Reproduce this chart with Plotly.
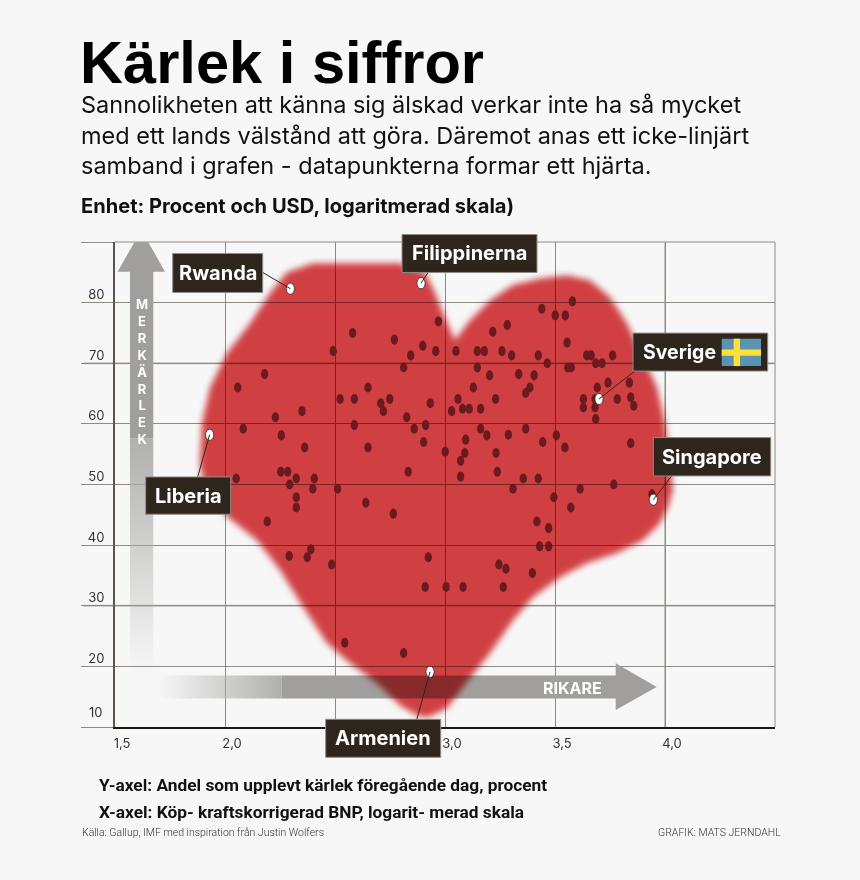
import plotly.graph_objects as go

# ---------- data ----------
dot_x = [2.970,2.580,2.770,2.899,2.958,2.844,2.492,2.812,2.180,2.058,2.650,2.523,2.588,2.749,2.708,2.720,2.933,2.350,2.229,2.826,2.083,2.588,2.860,2.912,2.256,2.903,2.362,2.650,3.001,2.833,2.253,2.285,2.324,2.406,2.051,2.294,2.399,2.512,2.324,2.324,2.192,2.640,2.765,2.292,2.390,2.374,2.485,2.924,2.910,3.005,2.544,2.812,
         3.579,3.440,3.501,3.547,3.283,3.217,3.555,3.050,3.147,3.179,3.259,3.303,3.424,3.644,3.664,3.762,3.465,3.685,3.714,3.558,3.574,3.147,3.203,3.335,3.405,3.129,3.386,3.367,3.741,3.838,3.692,3.059,3.230,3.629,3.682,3.783,3.844,3.858,3.030,3.080,3.110,3.162,3.629,3.682,3.685,3.162,3.190,3.288,3.367,3.506,3.094,3.444,3.545,3.844,3.090,3.232,3.071,3.238,3.071,3.356,3.424,3.767,3.614,3.309,3.495,3.572,3.418,3.471,3.430,3.471,3.245,3.277,3.397,3.265,3.082,3.941]
dot_y = [76.9,75.0,73.9,72.9,72.0,71.3,72.0,69.3,68.2,66.0,66.0,64.1,64.1,64.1,63.4,62.1,63.4,62.1,61.1,61.1,59.2,59.8,59.2,59.8,58.1,57.0,56.1,56.1,55.4,52.1,52.1,52.1,51.0,51.0,51.0,50.0,49.3,49.3,47.9,46.2,43.9,47.0,45.2,38.2,39.3,38.0,36.8,38.0,33.1,33.1,23.9,22.2,
         80.2,79.0,77.9,77.9,76.3,75.2,73.4,72.0,72.0,72.0,72.0,71.3,71.3,71.3,71.3,71.3,70.0,70.0,70.0,69.3,69.3,69.3,68.0,68.2,68.0,66.0,66.0,65.1,66.8,66.8,66.0,64.1,64.1,64.1,64.1,64.1,64.4,63.0,62.1,62.5,62.5,62.5,62.7,62.7,60.8,59.2,58.1,58.2,59.2,58.1,57.4,57.0,56.1,56.8,55.2,55.2,53.9,52.1,51.3,51.0,51.0,50.0,49.3,49.3,47.9,46.2,43.9,42.8,39.8,39.8,36.8,36.1,35.4,33.1,33.1,48.4]

country = ["Rwanda", "Filippinerna", "Liberia", "Sverige", "Singapore", "Armenien"]
country_x = [2.297, 2.891, 1.930, 3.700, 3.947, 2.932]
country_y = [82.3, 83.2, 58.2, 64.1, 47.5, 19.1]

heart_x = [2.400,2.282,2.205,2.114,2.009,1.932,1.895,1.886,1.909,2.014,2.145,2.250,2.355,2.464,2.568,2.691,2.795,2.873,2.923,3.009,3.082,3.205,3.309,3.400,3.523,3.645,3.782,3.900,3.977,4.014,4.036,4.023,4.000,3.964,3.900,3.827,3.750,3.659,3.555,3.432,3.309,3.205,3.114,3.045,2.991,2.955,2.909,2.795,2.400]
heart_y = [86.5,85.0,81.6,76.6,71.7,66.0,60.1,53.5,49.1,44.6,40.8,35.9,29.8,23.8,20.5,17.2,13.6,11.9,11.6,13.1,16.6,22.2,27.6,31.4,34.7,37.0,38.7,40.8,43.6,46.3,49.1,53.5,60.1,66.0,71.0,76.6,80.9,83.7,84.5,84.0,82.9,80.4,77.1,73.8,78.3,81.6,85.0,86.5,86.5]

x_ticks = [1.5, 2.0, 2.5, 3.0, 3.5, 4.0, 4.5]
x_labels = ["1,5", "2,0", "", "3,0", "3,5", "4,0", ""]
y_ticks = [10, 20, 30, 40, 50, 60, 70, 80, 90]
y_labels = ["", "20", "30", "40", "50", "60", "70", "80", ""]

title = "Kärlek i siffror"
subtitle = ["Sannolikheten att känna sig älskad verkar inte ha så mycket",
            "med ett lands välstånd att göra. Däremot anas ett icke-linjärt",
            "samband i grafen - datapunkterna formar ett hjärta."]
unit = "Enhet: Procent och USD, logaritmerad skala)"
y_note = "Y-axel: Andel som upplevt kärlek föregående dag, procent"
x_note = "X-axel: Köp- kraftskorrigerad BNP, logarit- merad skala"
source = "Källa: Gallup, IMF med inspiration från Justin Wolfers"
credit = "GRAFIK: MATS JERNDAHL"

# ---------- geometry helpers (page pixels -> plot paper fractions) ----------
L, R, T, B = 115, 775, 241.5, 727
px = lambda v: (v - L) / (R - L)
py = lambda v: (B - v) / (B - T)

BG = "#F7F7F7"
GRID = "#8E8A84"
PALE = "#C2C1BD"
ARROW = "#A09F9D"
INK = "#2E261C"

fig = go.Figure()

def arrow_part(xs, ys, uid, **kw):
    fig.add_trace(go.Scatter(x=xs, y=ys, mode="none", fill="toself", uid=uid,
                             cliponaxis=False, hoverinfo="skip", showlegend=False, **kw))

arrow_part([1.568,1.674,1.674,1.568,1.568],[18.9,18.9,57.6,57.6,18.9],"vfade",
           fillgradient=dict(type="vertical",
                             colorscale=[[0,"rgba(172,172,170,0)"],[1,"rgba(172,172,170,0.95)"]]))
arrow_part([1.568,1.568,1.512,1.620,1.727,1.674,1.674,1.568],[57.6,85.1,85.1,92.0,85.1,85.1,57.6,57.6],"vsolid",
           fillcolor=ARROW)
arrow_part([1.691,2.258,2.258,1.691,1.691],[14.7,14.7,18.5,18.5,14.7],"hfade",
           fillgradient=dict(type="horizontal",
                             colorscale=[[0,"rgba(172,172,170,0)"],[1,"rgba(172,172,170,0.95)"]]))
arrow_part([2.258,3.776,3.776,3.962,3.776,3.776,2.258,2.258],[18.5,18.5,20.5,16.6,12.8,14.7,14.7,18.5],"hsolid",
           fillcolor=ARROW)

fig.add_trace(go.Scatter(x=heart_x, y=heart_y, mode="none", fill="toself", fillcolor="#D74245",
                         uid="heart", cliponaxis=False, hoverinfo="skip", showlegend=False))

fig.add_trace(go.Scatter(x=dot_x, y=dot_y, mode="markers", uid="dots", cliponaxis=False,
                         marker=dict(size=9, color="#6B1B20"), showlegend=False, hoverinfo="skip"))

box_px = {
    "Rwanda": (172.7, 262.7, 253, 292, 262.7, 272.3),
    "Filippinerna": (402, 537, 234, 272, 428.3, 272),
    "Liberia": (145.7, 230.7, 476.7, 514, 197.7, 476.7),
    "Sverige": (633, 767.7, 332.7, 370.7, 635, 370.7),
    "Singapore": (653.3, 770.7, 437.3, 475.7, 671.7, 475.7),
    "Armenien": (325.7, 440.7, 719.3, 757.3, 416.7, 719.3),
}
shapes = []
for name, cx, cy in zip(country, country_x, country_y):
    b = box_px[name]
    shapes.append(dict(type="line", layer="above", xref="x", yref="y", x0=cx, y0=cy,
                       x1=1.5 + (b[4] - 115) / 220, y1=10 + (726.7 - b[5]) / 6.06,
                       line=dict(color=INK, width=1)))

fig.add_trace(go.Scatter(x=country_x, y=country_y, mode="markers", uid="whites", cliponaxis=False,
                         marker=dict(size=10, color="white", line=dict(color=INK, width=0.8)),
                         showlegend=False, hoverinfo="skip"))

# frame lines on the top and right, and the pale grid lines
shapes.append(dict(type="line", layer="between", xref="paper", yref="paper", x0=0, x1=1, y0=1, y1=1,
                   line=dict(color=GRID, width=1)))
shapes.append(dict(type="line", layer="between", xref="paper", yref="paper", x0=1, x1=1, y0=0, y1=1,
                   line=dict(color=GRID, width=1)))
for v in (70, 30):
    shapes.append(dict(type="line", layer="between", xref="paper", yref="y", x0=-0.048, x1=1, y0=v, y1=v,
                       line=dict(color=PALE, width=2)))
shapes.append(dict(type="line", layer="between", xref="x", yref="paper", x0=4.0, x1=4.0, y0=0, y1=1,
                   line=dict(color=PALE, width=2)))

for name in country:
    b = box_px[name]
    shapes.append(dict(type="rect", layer="above", xref="paper", yref="paper",
                       x0=px(b[0]), x1=px(b[1]), y0=py(b[3]), y1=py(b[2]),
                       fillcolor=INK, line=dict(color="#8F8C86", width=1)))
flag = [(721.7, 761, 338.3, 365.7, "#5B93B3"), (721.7, 761, 349, 355.3, "#FFE135"), (733.7, 740, 338.3, 365.7, "#FFE135")]
for x0, x1, y0, y1, c in flag:
    shapes.append(dict(type="rect", layer="above", xref="paper", yref="paper",
                       x0=px(x0), x1=px(x1), y0=py(y1), y1=py(y0), fillcolor=c, line=dict(width=0)))

ann = []
def text(t, x, y, size, color="#111111", family="Inter", weight=400, anchor="left"):
    ann.append(dict(text=t, x=px(x), y=py(y), xref="paper", yref="paper", xanchor=anchor, yanchor="middle",
                    showarrow=False, align=anchor,
                    font=dict(family=family, size=size, color=color, weight=weight)))

text(title, 78, 62, 59.6, "#000000", "Liberation Sans", 700)
text("<br>".join(subtitle), 79, 134.5, 23.5)
text(unit, 78.5, 205.5, 20.1, "#111111", "Inter", 700)
text(y_note, 97, 785, 17.3, "#111111", "Roboto", 700)
text(x_note, 97, 812, 17.3, "#111111", "Roboto", 700)
text(source, 79.5, 833, 10.5, "#333333", "Roboto", 300)
text(credit, 782.5, 833, 10.5, "#333333", "Roboto", 300, "right")
text("10", 87, 712, 13, "#333333", "Inter")

for name in country:
    b = box_px[name]
    cx = (b[0] + b[1]) / 2
    if name == "Sverige":
        text(name, 640.5, (b[2] + b[3]) / 2, 19.5, "white", "Inter", 700)
    else:
        text(name, cx, (b[2] + b[3]) / 2, 20, "white", "Inter", 700, "center")

text("<br>".join("MER KÄRLEK".replace(" ", "")), 141.5, 371, 13, "white", "Inter", 700, "center")
text("RIKARE", 572, 688, 16, "white", "Inter", 700, "center")

fig.update_layout(
    width=860, height=880, autosize=False,
    margin=dict(l=L, r=860 - R, t=T, b=880 - B),
    paper_bgcolor=BG, plot_bgcolor=BG, hovermode=False, showlegend=False,
    shapes=shapes, annotations=ann,
    xaxis=dict(range=[1.5, 4.5], tickmode="array", tickvals=x_ticks, ticktext=x_labels, ticks="",
               showgrid=True, gridcolor=GRID, gridwidth=1, zeroline=False,
               showline=True, linecolor="#1A1714", linewidth=2,
               ticklabelshift=7, ticklabelstandoff=3,
               tickfont=dict(family="Inter", size=13, color="#333333")),
    yaxis=dict(range=[10, 90], tickmode="array", tickvals=y_ticks, ticktext=y_labels,
               ticks="outside", ticklen=32, tickcolor=GRID, tickwidth=1,
               showgrid=True, gridcolor=GRID, gridwidth=1, zeroline=False,
               showline=True, linecolor="#5B554C", linewidth=2,
               ticklabelshift=-8, ticklabelstandoff=-26,
               tickfont=dict(family="Inter", size=13, color="#333333")),
)

# Blend the heart into the grid and arrows (multiply), soften its edge, stretch the dots.
post = """
(function(){
  document.documentElement.style.background='#F7F7F7';
  document.body.style.margin='0';
  function apply(){
    var gd=document.getElementById('{plot_id}');
    gd.querySelectorAll('.plot').forEach(function(p){p.removeAttribute('clip-path');});
    var xy=gd.querySelector('.overplot .xy');
    var tr=xy.getAttribute('transform');
    if(tr){
      xy.removeAttribute('transform');
      gd.querySelectorAll('.scatterlayer .trace').forEach(function(t){
        if(t.getAttribute('class').indexOf('traceheart')<0){t.setAttribute('transform',tr);}
      });
      gd.querySelectorAll('.traceheart .js-fill').forEach(function(p){p.setAttribute('transform',tr);});
    }
    gd.querySelectorAll('.traceheart .fills').forEach(function(f){f.removeAttribute('clip-path');});
    gd.querySelectorAll('.traceheart .js-fill').forEach(function(p){
      p.style.filter='blur(3px)'; p.style.mixBlendMode='multiply';
    });
    gd.querySelectorAll('.tracedots .point, .tracewhites .point').forEach(function(p){
      var t=p.getAttribute('transform')||'';
      if(t.indexOf('scale')<0){p.setAttribute('transform',t+' scale(0.82,1.12)');}
    });
  }
  apply(); setTimeout(apply,50); setTimeout(apply,300);
})();
"""
fig.write_html("out.html", post_script=post, config=dict(displayModeBar=False))
